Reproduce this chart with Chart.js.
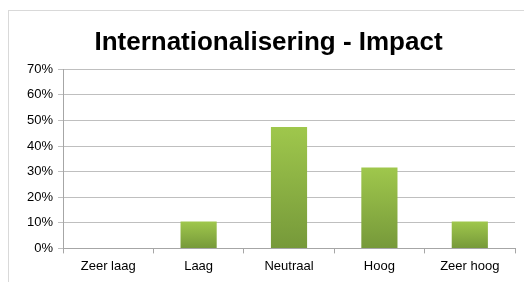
<!DOCTYPE html>
<html>
<head>
<meta charset="utf-8">
<script src="https://cdn.jsdelivr.net/npm/chart.js@4"></script>
<style>
  body { margin: 0; background: #fff; overflow: hidden; }
  #frame { position: absolute; left: 8px; top: 10px; width: 540px; height: 300px; border: 1px solid #d9d9d9; }
  #wrap { position: absolute; left: 0; top: 0; width: 524px; height: 282px; }
</style>
</head>
<body>
<div id="frame"></div>
<div id="wrap"><canvas id="myChart" width="524" height="282"></canvas></div>
<script>
const categories = ['Zeer laag', 'Laag', 'Neutraal', 'Hoog', 'Zeer hoog'];
const impact = [0, 10.5, 47.4, 31.6, 10.5];
const yTicks = [0, 10, 20, 30, 40, 50, 60, 70];

const ctx = document.getElementById('myChart').getContext('2d');

// green gradient per bar, light on top, darker at the base
function barFill(context) {
    const chart = context.chart;
    const y = chart.scales && chart.scales.y;
    if (!chart.chartArea || !y || context.raw == null) return '#8db543';
    const top = y.getPixelForValue(context.raw);
    const bottom = y.getPixelForValue(0);
    if (!isFinite(top) || bottom - top < 1) return '#8db543';
    const g = chart.ctx.createLinearGradient(0, top, 0, bottom);
    g.addColorStop(0, '#9fc74c');
    g.addColorStop(1, '#76993a');
    return g;
}

const myChart = new Chart(ctx, {
    type: 'bar',
    data: {
        labels: categories,
        datasets: [{
            label: 'Impact',
            data: impact,
            backgroundColor: barFill,
            borderWidth: 0,
            barPercentage: 0.8,
            categoryPercentage: 0.5
        }]
    },
    options: {
        responsive: false,
        animation: false,
        layout: { padding: { left: 22, right: 9, top: 6, bottom: 3 } },
        plugins: {
            legend: { display: false },
            tooltip: { enabled: false },
            title: {
                display: true,
                text: 'Internationalisering - Impact',
                color: '#000',
                font: { family: 'Liberation Sans, Arial', size: 26, weight: 'bold' },
                padding: { top: 21, bottom: 11 }
            }
        },
        scales: {
            x: {
                grid: { offset: true, drawOnChartArea: false, drawTicks: true, tickLength: 5, color: '#a6a6a6' },
                border: { color: '#a6a6a6' },
                ticks: { color: '#000', font: { family: 'Liberation Sans, Arial', size: 13 }, padding: 5, maxRotation: 0 }
            },
            y: {
                min: 0,
                max: 70,
                afterBuildTicks: (axis) => { axis.ticks = yTicks.map(v => ({ value: v })); },
                grid: { color: '#bfbfbf', tickLength: 5 },
                border: { color: '#a6a6a6' },
                ticks: {
                    color: '#000',
                    font: { family: 'Liberation Sans, Arial', size: 13 },
                    padding: 5,
                    callback: (v) => v + '%'
                }
            }
        }
    }
});
</script>
</body>
</html>
